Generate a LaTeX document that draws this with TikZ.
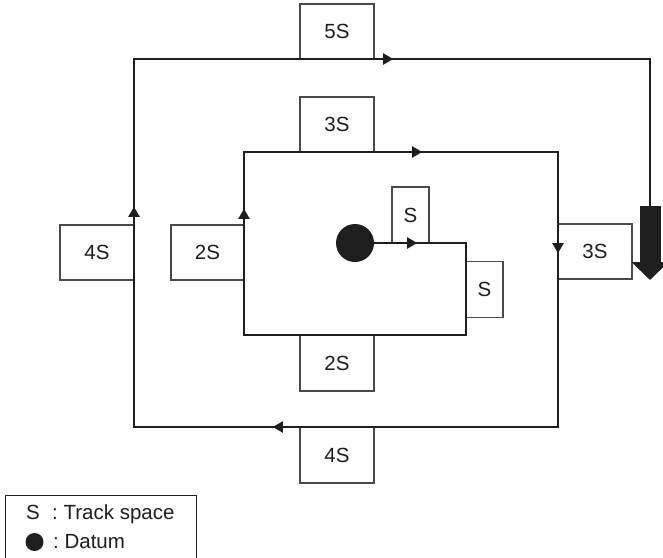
\documentclass[tikz,border=0pt]{standalone}
\usepackage{fontspec}
\setmainfont{Liberation Sans}
\usetikzlibrary{arrows.meta,decorations.markings}
\definecolor{ink}{HTML}{1E1E1E}
\definecolor{frame}{HTML}{4A4A4A}
\tikzset{flowtip/.tip={Triangle[length=10pt,width=11pt]}}

\begin{document}
\begin{tikzpicture}[
  x=1pt, y=-1pt,
  box/.style={rectangle, draw=frame, line width=1.1pt, fill=white,
              minimum width=74pt, minimum height=55pt, inner sep=0pt,
              font=\fontsize{20.5}{24}\selectfont, text=ink},
  sbox/.style={box, minimum width=37pt, minimum height=56pt},
  track/.style={draw=ink, line width=2pt, line join=miter},
  flow/.style={postaction={decorate}, decoration={markings,
      mark=at position 43pt with {\arrow{flowtip}},
      mark=at position 532pt with {\arrow{flowtip}},
      mark=at position 767pt with {\arrow{flowtip}},
      mark=at position 1004pt with {\arrow{flowtip}},
      mark=at position 1463pt with {\arrow{flowtip}},
      mark=at position 1822pt with {\arrow{flowtip}},
      mark=at position 2229pt with {\arrow{flowtip}}}},
  legtext/.style={anchor=base west, inner sep=0pt,
                  font=\fontsize{20.5}{24}\selectfont, text=ink}
]
\useasboundingbox (0,0) rectangle (663,557);

% datum and track spaces
\node[circle, fill=ink, minimum size=38pt, inner sep=0pt] (datum) at (355,243) {};
\node[box]  (top5)   at (337,31.5)  {5S};
\node[box]  (top3)   at (337,124.5) {3S};
\node[sbox] (first)  at (410.5,215) {S};
\node[sbox] (second) at (484.5,289.5) {S};
\node[box]  (right3) at (595,251.5) {3S};
\node[box]  (left4)  at (97,252.5)  {4S};
\node[box, minimum width=73pt] (left2) at (207.5,252.5) {2S};
\node[box, minimum height=56pt] (bot2) at (337,363) {2S};
\node[box, minimum height=56pt] (bot4) at (337,455) {4S};

% corners of the spiral
\coordinate (c1) at (466,243);
\coordinate (c2) at (466,335);
\coordinate (c3) at (244,335);
\coordinate (c4) at (244,152);
\coordinate (c5) at (558,152);
\coordinate (c6) at (558,427);
\coordinate (c7) at (134,427);
\coordinate (c8) at (134,59);
\coordinate (c9) at (650,59);
\coordinate (headtop) at (650,206);
\coordinate (headend) at (650,280);

\draw[track, flow] (datum.east) -- (c1) -- (c2) -- (c3) -- (c4) -- (c5)
  -- (c6) -- (c7) -- (c8) -- (c9) -- (headtop);
\draw[ink, line width=21pt, -{Triangle[length=18pt,width=36pt]}] (headtop) -- (headend);

% legend
\node[draw=ink, line width=1.1pt, anchor=north west, minimum width=191pt,
      minimum height=72pt, inner sep=0pt] (legend) at (5,495) {};
\node[legtext] (legS) at (26,519) {S};
\node[legtext] (legTrack) at (52,519) {:\ Track space};
\node[circle, fill=ink, minimum size=18pt, inner sep=0pt] (legDot) at (34.5,542) {};
\node[legtext] (legDatum) at (53,548) {:\ Datum};
\end{tikzpicture}
\end{document}
